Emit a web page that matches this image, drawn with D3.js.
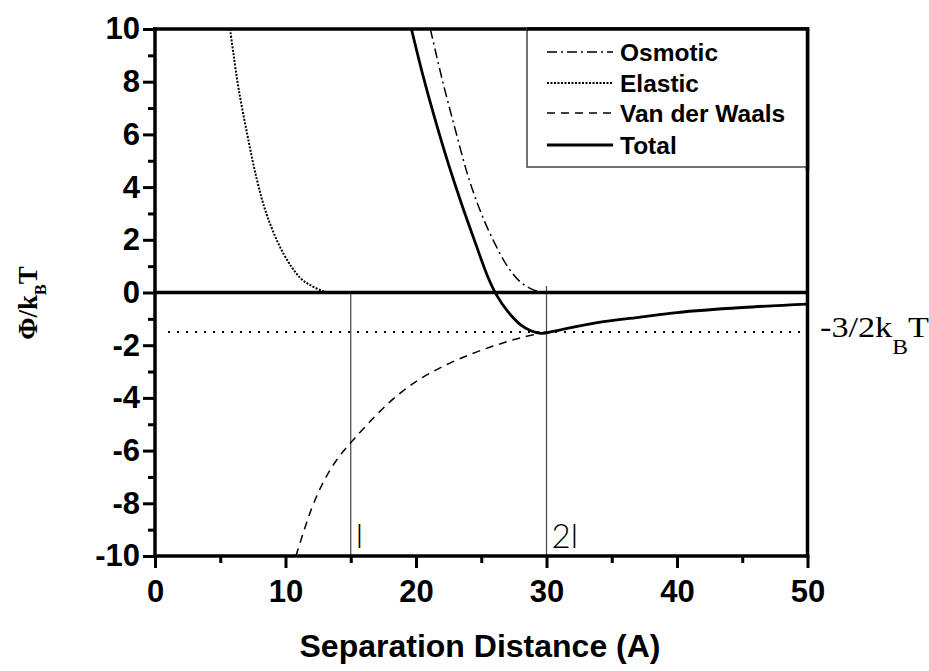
<!DOCTYPE html>
<html>
<head>
<meta charset="utf-8">
<script src="https://cdn.jsdelivr.net/npm/d3@7"></script>
<style>
  html, body { margin: 0; padding: 0; background: #fff; }
  svg { display: block; }
</style>
</head>
<body>
<svg id="chart" width="929" height="671"></svg>
<script>
// ---------- data ----------
const xTicksMajor = [0, 10, 20, 30, 40, 50];
const xTicksMinor = [5, 15, 25, 35, 45];
const yTicksMajor = [-10, -8, -6, -4, -2, 0, 2, 4, 6, 8, 10];
const yTicksMinor = [-9, -7, -5, -3, -1, 1, 3, 5, 7, 9];

const elasticX = [5.75, 6.0, 6.4, 7.07, 7.8, 8.6, 9.85, 11.1, 12.0, 12.9, 13.3];
const elasticY = [10, 9.1, 7.75, 6.0, 4.3, 2.9, 1.47, 0.57, 0.25, 0.05, 0];

const osmoticX = [21.1, 22, 23, 24, 25, 26, 27, 28, 29, 29.9];
const osmoticY = [10, 8.1, 6.2, 4.4, 3.0, 1.9, 1.0, 0.4, 0.1, 0];

const vdwX = [10.8, 12, 13, 14, 15, 16, 18, 20, 22, 24, 26, 28, 30];
const vdwY = [-10, -8.2, -7.1, -6.3, -5.7, -5.15, -4.15, -3.38, -2.82, -2.38, -2.02, -1.72, -1.5];

const totalX = [19.65, 20.5, 21.5, 22.5, 23.5, 24.5, 25.5, 26.2, 27, 28, 28.8, 29.6, 30.5, 31.5, 34.0, 37.1, 40, 45, 50];
const totalY = [10, 8.3, 6.5, 4.85, 3.35, 1.95, 0.6, -0.12, -0.7, -1.22, -1.45, -1.55, -1.48, -1.37, -1.13, -0.94, -0.76, -0.57, -0.44];

const refLevel = -1.5;          // -3/2 kBT line
const refLevelStart = 1;
const markX = [15, 30];         // l and 2l
const markTop = [0, 0.25];
const markLabels = ["l", "2l"];

const legendNames = ["Osmotic", "Elastic", "Van der Waals", "Total"];

// ---------- layout ----------
const svg = d3.select("#chart");
const x = d3.scaleLinear().domain([0, 50]).range([155, 807.5]);
const y = d3.scaleLinear().domain([-10, 10]).range([556, 29]);

const sansBold = "'Liberation Sans', Arial, Helvetica, sans-serif";
const serif = "'Liberation Serif', 'Times New Roman', serif";

const styles = {
  "Osmotic": { w: 1.5, dash: "10,4,2,4" },
  "Elastic": { w: 2, dash: "2,1.5" },
  "Van der Waals": { w: 1.5, dash: "8,6" },
  "Total": { w: 2.8, dash: null }
};

svg.append("defs").append("clipPath").attr("id", "plotclip")
  .append("rect").attr("x", x(0)).attr("y", y(10))
  .attr("width", x(50) - x(0)).attr("height", y(-10) - y(10));

// vertical l and 2l lines
svg.append("g").selectAll("line").data(markX).join("line")
  .attr("x1", d => x(d)).attr("x2", d => x(d))
  .attr("y1", y(-10)).attr("y2", (d, i) => y(markTop[i]))
  .attr("stroke", "#444").attr("stroke-width", 1.2);

svg.append("g").selectAll("text").data(markLabels).join("text")
  .attr("x", (d, i) => x(markX[i]) + 5)
  .attr("y", 548)
  .attr("font-family", "Lato, 'Liberation Sans', Arial, sans-serif")
  .attr("font-weight", 300)
  .attr("font-size", 33)
  .attr("fill", "#000")
  .text(d => d);

// horizontal dotted -1.5 line
svg.append("line")
  .attr("x1", x(refLevelStart)).attr("x2", x(50))
  .attr("y1", y(refLevel)).attr("y2", y(refLevel))
  .attr("stroke", "#000").attr("stroke-width", 2)
  .attr("stroke-dasharray", "2,7");

// curves
const line = d3.line().x(d => x(d[0])).y(d => y(d[1])).curve(d3.curveCatmullRom.alpha(0.5));
const series = [
  { name: "Elastic", xs: elasticX, ys: elasticY },
  { name: "Osmotic", xs: osmoticX, ys: osmoticY },
  { name: "Van der Waals", xs: vdwX, ys: vdwY },
  { name: "Total", xs: totalX, ys: totalY }
];
const gCurves = svg.append("g").attr("clip-path", "url(#plotclip)");
series.forEach(s => {
  const pts = s.xs.map((v, i) => [v, s.ys[i]]);
  gCurves.append("path")
    .attr("d", line(pts))
    .attr("fill", "none")
    .attr("stroke", "#000")
    .attr("stroke-width", styles[s.name].w)
    .attr("stroke-dasharray", styles[s.name].dash);
});

// zero line
svg.append("line")
  .attr("x1", x(0)).attr("x2", x(50))
  .attr("y1", y(0)).attr("y2", y(0))
  .attr("stroke", "#000").attr("stroke-width", 3.5);

// axes
const fmt = d => String(d); // plain hyphen minus like the reference
function styleAxis(g) {
  g.select(".domain").remove();
  g.selectAll(".tick line").attr("stroke", "#000").attr("stroke-width", 3);
  g.selectAll(".tick text").attr("font-family", sansBold).attr("font-weight", "bold")
    .attr("font-size", 31).attr("fill", "#000");
}
svg.append("g").attr("transform", `translate(0,${y(-10)})`)
  .call(d3.axisBottom(x).tickValues(xTicksMajor).tickSize(12).tickPadding(12).tickFormat(fmt))
  .call(styleAxis);
svg.append("g").attr("transform", `translate(0,${y(-10)})`)
  .call(d3.axisBottom(x).tickValues(xTicksMinor).tickSize(7).tickFormat(""))
  .call(styleAxis);
svg.append("g").attr("transform", `translate(${x(0)},0)`)
  .call(d3.axisLeft(y).tickValues(yTicksMajor).tickSize(12).tickPadding(3).tickFormat(fmt))
  .call(styleAxis);
svg.append("g").attr("transform", `translate(${x(0)},0)`)
  .call(d3.axisLeft(y).tickValues(yTicksMinor).tickSize(7).tickFormat(""))
  .call(styleAxis);

// frame
const frame = svg.append("g").attr("stroke", "#000").attr("stroke-width", 3.5).attr("stroke-linecap", "square");
frame.append("line").attr("x1", x(0)).attr("x2", x(50)).attr("y1", y(-10)).attr("y2", y(-10));
frame.append("line").attr("x1", x(0)).attr("x2", x(50)).attr("y1", y(10)).attr("y2", y(10));
frame.append("line").attr("x1", x(0)).attr("x2", x(0)).attr("y1", y(-10)).attr("y2", y(10));
frame.append("line").attr("x1", x(50)).attr("x2", x(50)).attr("y1", y(-10)).attr("y2", y(10));

// legend
const lg = svg.append("g");
lg.append("rect")
  .attr("x", 527).attr("y", y(10)).attr("width", x(50) - 527).attr("height", 167 - y(10))
  .attr("fill", "#fff").attr("stroke", "#444").attr("stroke-width", 1.5);
lg.append("line").attr("x1", 527).attr("x2", x(50)).attr("y1", y(10)).attr("y2", y(10))
  .attr("stroke", "#000").attr("stroke-width", 3.5);
lg.append("line").attr("x1", x(50)).attr("x2", x(50)).attr("y1", y(10)).attr("y2", 170)
  .attr("stroke", "#000").attr("stroke-width", 3.5);
const rowY = [52, 83, 113, 145];
legendNames.forEach((n, i) => {
  lg.append("line").attr("x1", 547).attr("x2", 613).attr("y1", rowY[i]).attr("y2", rowY[i])
    .attr("stroke", "#000").attr("stroke-width", styles[n].w).attr("stroke-dasharray", styles[n].dash);
  lg.append("text").attr("x", 620).attr("y", rowY[i]).attr("dy", "0.36em")
    .attr("font-family", sansBold).attr("font-weight", "bold").attr("font-size", 24.5)
    .text(n);
});

// axis titles
svg.append("text")
  .attr("x", 480).attr("y", 657).attr("text-anchor", "middle")
  .attr("font-family", sansBold).attr("font-weight", "bold").attr("font-size", 32)
  .text("Separation Distance (A)");

const yl = svg.append("text")
  .attr("transform", "translate(37,303) rotate(-90)")
  .attr("text-anchor", "middle")
  .attr("font-family", serif).attr("font-weight", "bold").attr("font-size", 27);
yl.append("tspan").text("Φ/k");
yl.append("tspan").attr("font-size", 16).attr("dy", 9).text("B");
yl.append("tspan").attr("dy", -9).text("T");

// right-hand label
const rl = svg.append("text")
  .attr("transform", "translate(820,337) scale(1.18,1)")
  .attr("font-family", serif).attr("font-size", 29);
rl.append("tspan").text("-3/2k");
rl.append("tspan").attr("font-size", 20).attr("dy", 17).text("B");
rl.append("tspan").attr("dy", -17).text("T");
</script>
</body>
</html>
